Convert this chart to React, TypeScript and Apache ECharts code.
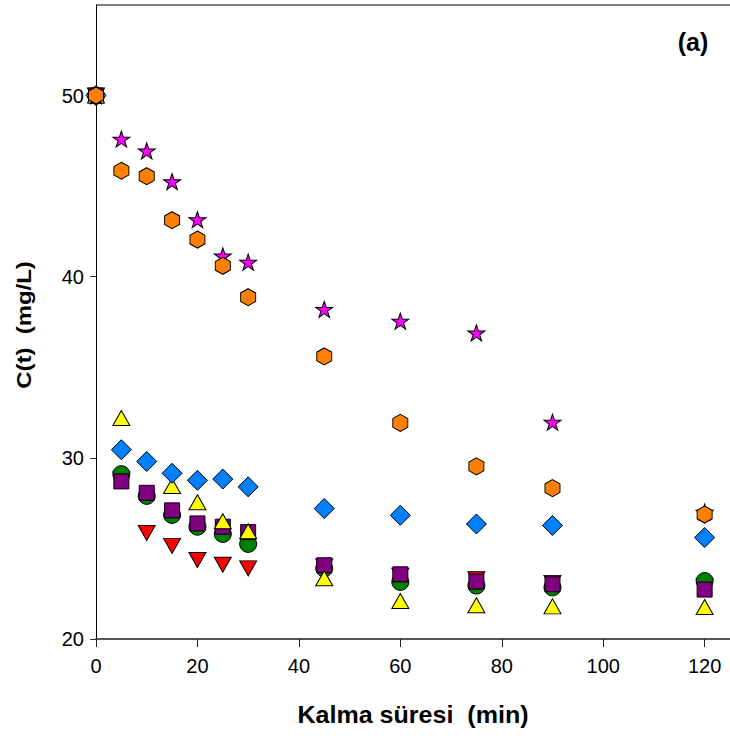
import React, { useEffect, useRef } from "react";
import * as echarts from "echarts";

const times = [0, 5, 10, 15, 20, 25, 30, 45, 60, 75, 90, 120];
const starVals = [50, 47.6, 46.95, 45.25, 43.15, 41.15, 40.8, 38.2, 37.55, 36.9, 31.97, 27.0];
const hexVals = [50, 45.85, 45.55, 43.12, 42.05, 40.6, 38.87, 35.6, 31.93, 29.53, 28.33, 26.87];
const diamondVals = [50, 30.45, 29.8, 29.15, 28.76, 28.83, 28.4, 27.2, 26.83, 26.35, 26.27, 25.6];
const circleVals = [50, 29.1, 27.9, 26.85, 26.2, 25.8, 25.25, 23.9, 23.15, 22.95, 22.85, 23.2];
const squareVals = [50, 28.7, 28.07, 27.1, 26.38, 26.2, 25.9, 24.07, 23.57, 23.17, 23.02, 22.73];
const upTriVals: (number | null)[] = [50, 32.2, null, 28.45, 27.55, 26.5, 25.95, 23.35, 22.1, 21.86, 21.8, 21.77];
const downTriVals = [50, 28.8, 25.85, 25.14, 24.36, 24.1, 23.9, 24.0, 23.5, 23.3, 23.1, 22.9];

const xTicks = [0, 20, 40, 60, 80, 100, 120];
const yTicks = [20, 30, 40, 50];

const HEX = "path://M0,-1 L0.866,-0.5 L0.866,0.5 L0,1 L-0.866,0.5 L-0.866,-0.5 Z";
const STAR =
  "path://M0,-1 L0.2245,-0.309 L0.9511,-0.309 L0.3633,0.118 L0.5878,0.809 L0,0.382 L-0.5878,0.809 L-0.3633,0.118 L-0.9511,-0.309 L-0.2245,-0.309 Z";

const pts = (vals: (number | null)[]) =>
  times.map((t, i) => [t, vals[i]]).filter((p) => p[1] !== null);

export default function App() {
  const ref = useRef<HTMLDivElement>(null);
  useEffect(() => {
    if (!ref.current) return;
    const chart = echarts.init(ref.current, undefined, { renderer: "svg" });
    const mk = (
      name: string,
      vals: (number | null)[],
      symbol: string,
      size: number | number[],
      color: string,
      rotate = 0
    ) => ({
      name,
      type: "scatter",
      data: pts(vals),
      symbol,
      symbolSize: size,
      symbolRotate: rotate,
      itemStyle: { color, borderColor: "#000", borderWidth: 1, opacity: 1 },
      emphasis: { disabled: true },
    });
    chart.setOption({
      animation: false,
      backgroundColor: "#fff",
      grid: { left: 96, top: 5, right: 0, bottom: 97, containLabel: false },
      xAxis: {
        type: "value",
        min: 0,
        max: 125,
        interval: 20,
        splitLine: { show: false },
        axisLine: { show: true, lineStyle: { color: "#555", width: 2 } },
        axisTick: {
          show: true,
          inside: false,
          length: 8,
          customValues: xTicks,
          lineStyle: { color: "#222", width: 1 },
        },
        axisLabel: {
          customValues: xTicks,
          margin: 17,
          color: "#000",
          fontSize: 20,
          fontFamily: "Liberation Sans, Arial, sans-serif",
        },
      },
      yAxis: {
        type: "value",
        min: 20,
        max: 55,
        interval: 10,
        splitLine: { show: false },
        axisLine: { show: true, onZero: false, lineStyle: { color: "#000", width: 1 } },
        axisTick: {
          show: true,
          inside: false,
          length: 6,
          customValues: yTicks,
          lineStyle: { color: "#333", width: 1 },
        },
        axisLabel: {
          customValues: yTicks,
          margin: 12,
          color: "#000",
          fontSize: 20,
          fontFamily: "Liberation Sans, Arial, sans-serif",
        },
      },
      graphic: [
        {
          type: "line",
          shape: { x1: 96, y1: 5, x2: 730, y2: 5 },
          style: { stroke: "#000", lineWidth: 1 },
          silent: true,
        },
        {
          type: "text",
          x: 693,
          y: 42,
          style: {
            text: "(a)",
            fontSize: 25,
            fontWeight: "bold",
            fontFamily: "Liberation Sans, Arial, sans-serif",
            fill: "#000",
            align: "center",
            verticalAlign: "middle",
          },
        },
        {
          type: "text",
          x: 413,
          y: 715,
          scaleX: 1.09,
          style: {
            text: "Kalma süresi  (min)",
            fontSize: 23,
            fontWeight: "bold",
            fontFamily: "Liberation Sans, Arial, sans-serif",
            fill: "#000",
            align: "center",
            verticalAlign: "middle",
          },
        },
        {
          type: "text",
          x: 24,
          y: 325,
          rotation: Math.PI / 2,
          scaleX: 1.14,
          style: {
            text: "C(t)  (mg/L)",
            fontSize: 21,
            fontWeight: "bold",
            fontFamily: "Liberation Sans, Arial, sans-serif",
            fill: "#000",
            align: "center",
            verticalAlign: "middle",
          },
        },
      ],
      series: [
        mk("s-red", downTriVals, "triangle", [17, 15], "#FF0000", 180),
        mk("s-green", circleVals, "circle", 17, "#008000"),
        mk("s-purple", squareVals, "rect", [15, 15], "#800080"),
        mk("s-yellow", upTriVals, "triangle", [17, 15], "#FFFF00"),
        mk("s-blue", diamondVals, "diamond", [20, 20], "#0080FF"),
        mk("s-star", starVals, STAR, [17, 16], "#FF00FF"),
        mk("s-hex", hexVals, HEX, [15, 17], "#FF8000"),
      ],
    });
    return () => chart.dispose();
  }, []);
  return (
    <div
      ref={ref}
      style={{ position: "absolute", left: 0, top: 0, width: 730, height: 736 }}
    />
  );
}
